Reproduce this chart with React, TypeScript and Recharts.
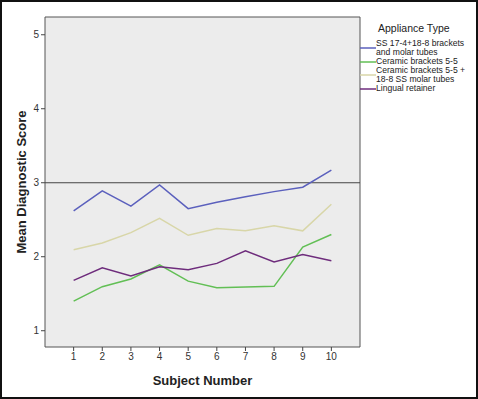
import React from "react";
import {
  Label,
  Line,
  LineChart,
  ReferenceArea,
  ReferenceLine,
  XAxis,
  YAxis,
} from "recharts";

const subjects = [1, 2, 3, 4, 5, 6, 7, 8, 9, 10];
const xTicks = [1, 2, 3, 4, 5, 6, 7, 8, 9, 10];
const yTicks = [1, 2, 3, 4, 5];

const ssBrackets = [2.62, 2.89, 2.685, 2.97, 2.65, 2.735, 2.81, 2.88, 2.94, 3.17];
const ceramic = [1.4, 1.595, 1.7, 1.89, 1.67, 1.58, 1.59, 1.6, 2.13, 2.3];
const ceramicSS = [2.095, 2.185, 2.325, 2.52, 2.29, 2.38, 2.35, 2.42, 2.35, 2.71];
const lingual = [1.68, 1.85, 1.74, 1.865, 1.825, 1.91, 2.08, 1.93, 2.03, 1.945];

const series = [
  { key: "ss", name: "SS 17-4+18-8 brackets\nand molar tubes", color: "#5b60bd", values: ssBrackets },
  { key: "ceramic", name: "Ceramic brackets 5-5", color: "#62bf55", values: ceramic },
  { key: "ceramicSS", name: "Ceramic brackets 5-5 +\n18-8 SS molar tubes", color: "#d8d6a8", values: ceramicSS },
  { key: "lingual", name: "Lingual retainer", color: "#6e2c7c", values: lingual },
];

const data = subjects.map((s, i) => {
  const row: Record<string, number> = { subject: s };
  series.forEach((sr) => (row[sr.key] = sr.values[i]));
  return row;
});

const font = "'Liberation Sans', Arial, sans-serif";

function LegendBox() {
  return (
    <div
      style={{
        position: "absolute",
        left: 360,
        top: 22,
        fontFamily: font,
        color: "#222",
        whiteSpace: "nowrap",
      }}
    >
      <div style={{ fontSize: 10.5, marginLeft: 18, marginBottom: 5, lineHeight: "12px" }}>
        Appliance Type
      </div>
      {series.map((s) => {
        const lines = s.name.split("\n");
        return (
          <div key={s.key} style={{ display: "flex", alignItems: "center" }}>
            <svg width={16} height={4} style={{ flexShrink: 0, display: "block" }}>
              <line x1={0} x2={16} y1={2} y2={2} stroke={s.color} strokeWidth={1.5} />
            </svg>
            <div style={{ fontSize: 8.6, lineHeight: "9px" }}>
              {lines.map((l) => (
                <div key={l}>{l}</div>
              ))}
            </div>
          </div>
        );
      })}
    </div>
  );
}

export default function App() {
  return (
    <div
      style={{
        position: "absolute",
        left: 0,
        top: 0,
        width: 474,
        height: 395,
        border: "2px solid #111",
        background: "#fff",
      }}
    >
      <div style={{ position: "absolute", left: -2, top: -2 }}>
        <LineChart
          width={478}
          height={399}
          data={data}
          margin={{ top: 17, right: 118, left: 0, bottom: 0 }}
        >
          <ReferenceArea
            x1={0}
            x2={11}
            y1={0.78}
            y2={5.24}
            fill="#ececec"
            fillOpacity={1}
            stroke="#555"
            strokeWidth={1}
            ifOverflow="visible"
          />
          <XAxis
            dataKey="subject"
            type="number"
            domain={[0, 11]}
            ticks={xTicks}
            height={52}
            axisLine={false}
            tickLine={{ stroke: "#444" }}
            tickSize={4}
            tick={{ fontSize: 10, fill: "#333", fontFamily: font }}
            interval={0}
          >
            <Label
              value="Subject Number"
              position="insideBottom"
              offset={14}
              style={{ fontSize: 13, fontWeight: "bold", fill: "#222", fontFamily: font }}
            />
          </XAxis>
          <YAxis
            type="number"
            domain={[0.78, 5.24]}
            ticks={yTicks}
            width={45}
            axisLine={false}
            tickLine={{ stroke: "#444" }}
            tickSize={4}
            tick={{ fontSize: 10, fill: "#333", fontFamily: font }}
            allowDataOverflow
          >
            <Label
              value="Mean Diagnostic Score"
              angle={-90}
              position="insideLeft"
              offset={21}
              style={{ fontSize: 13, fontWeight: "bold", fill: "#222", fontFamily: font, textAnchor: "middle" }}
            />
          </YAxis>
          <ReferenceLine y={3} stroke="#444" strokeWidth={1.2} />
          {series.map((s) => (
            <Line
              key={s.key}
              dataKey={s.key}
              name={s.name}
              stroke={s.color}
              strokeWidth={1.5}
              dot={false}
              type="linear"
              isAnimationActive={false}
            />
          ))}
        </LineChart>
        <LegendBox />
      </div>
    </div>
  );
}
